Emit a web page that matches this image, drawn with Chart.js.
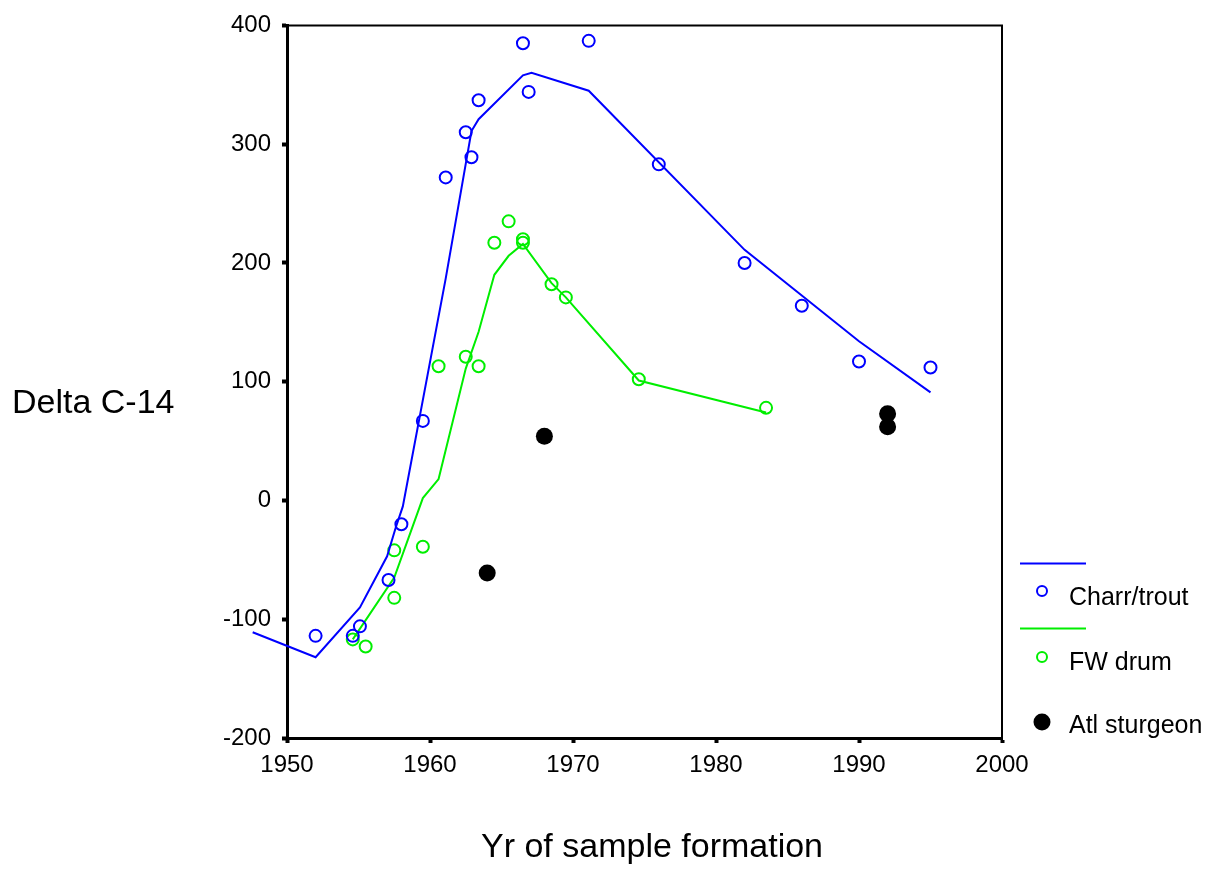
<!DOCTYPE html>
<html>
<head>
<meta charset="utf-8">
<script src="https://cdn.jsdelivr.net/npm/chart.js@4"></script>
<style>
  body { margin: 0; background: #fff; }
  #wrap { width: 1212px; height: 869px; }
</style>
</head>
<body>
<div id="wrap"><canvas id="myChart" width="1212" height="869"></canvas></div>
<script>
// values
const charrYear = [1952.0, 1954.6, 1955.1, 1957.1, 1958.0, 1959.5, 1961.1, 1962.5, 1962.9, 1963.4, 1966.5, 1966.9, 1971.1, 1976.0, 1982.0, 1986.0, 1990.0, 1995.0];
const charrDelta = [-114, -114, -106, -67, -20, 67, 272, 310, 289, 337, 385, 344, 387, 283, 200, 164, 117, 112];
const charrFitYear = [1947.6, 1952.0, 1955.1, 1957.0, 1957.6, 1958.1, 1961.1, 1962.9, 1963.4, 1966.5, 1967.1, 1971.1, 1982.0, 1990.0, 1995.0];
const charrFit = [-111, -132, -90, -47, -23, -5, 187, 311, 321, 358, 360, 345, 211, 134, 91];

const drumYear = [1954.6, 1955.5, 1957.5, 1957.5, 1959.5, 1960.6, 1962.5, 1963.4, 1964.5, 1965.5, 1966.5, 1966.5, 1968.5, 1969.5, 1974.6, 1983.5];
const drumDelta = [-117, -123, -42, -82, -39, 113, 121, 113, 217, 235, 220, 217, 182, 171, 102, 78];
const drumFitYear = [1954.6, 1957.5, 1959.5, 1960.6, 1962.5, 1963.4, 1964.5, 1965.5, 1966.5, 1968.5, 1969.5, 1974.6, 1983.5];
const drumFit = [-117, -65, 2, 18, 111, 142, 190, 206, 216, 183, 171, 101, 74];

const sturgeonYear = [1964.0, 1968.0, 1992.0, 1992.0];
const sturgeonDelta = [-61, 54, 73, 62];

const seriesNames = ["Charr/trout", "FW drum", "Atl sturgeon"];
const xTicks = [1950, 1960, 1970, 1980, 1990, 2000];
const yTicks = [-200, -100, 0, 100, 200, 300, 400];

const BLUE = "#0000ff";
const GREEN = "#00ee00";
const FONT = "'Liberation Sans', Arial, sans-serif";

function pts(xs, ys) {
  var out = [];
  for (var i = 0; i < xs.length; i++) out.push({ x: xs[i], y: ys[i] });
  return out;
}

// titles, frame and legend
const extras = {
  id: "extras",
  afterDraw(chart) {
    const ctx = chart.ctx;
    const a = chart.chartArea;
    ctx.save();
    // top + right frame
    ctx.strokeStyle = "#000";
    ctx.lineWidth = 2;
    ctx.beginPath();
    ctx.moveTo(a.left, a.top);
    ctx.lineTo(a.right, a.top);
    ctx.lineTo(a.right, a.bottom);
    ctx.stroke();

    ctx.fillStyle = "#000";
    ctx.textBaseline = "alphabetic";
    ctx.font = "34px " + FONT;
    ctx.textAlign = "left";
    ctx.fillText("Delta C-14", 12, 413);
    ctx.textAlign = "center";
    ctx.fillText("Yr of sample formation", 652, 857);

    // legend
    ctx.lineWidth = 2;
    ctx.strokeStyle = BLUE;
    ctx.beginPath(); ctx.moveTo(1020, 563.5); ctx.lineTo(1086, 563.5); ctx.stroke();
    ctx.beginPath(); ctx.arc(1042, 591, 5, 0, Math.PI * 2); ctx.stroke();
    ctx.strokeStyle = GREEN;
    ctx.beginPath(); ctx.moveTo(1020, 628.5); ctx.lineTo(1086, 628.5); ctx.stroke();
    ctx.beginPath(); ctx.arc(1042, 657, 5, 0, Math.PI * 2); ctx.stroke();
    ctx.fillStyle = "#000";
    ctx.beginPath(); ctx.arc(1042, 722, 8.5, 0, Math.PI * 2); ctx.fill();

    ctx.font = "25px " + FONT;
    ctx.textAlign = "left";
    ctx.fillText(seriesNames[0], 1069, 605);
    ctx.fillText(seriesNames[1], 1069, 670);
    ctx.fillText(seriesNames[2], 1069, 733);
    ctx.restore();
  }
};

new Chart("myChart", {
  type: "scatter",
  data: {
    datasets: [
      {
        label: seriesNames[0] + " fit",
        data: pts(charrFitYear, charrFit),
        showLine: true,
        borderColor: BLUE,
        borderWidth: 2,
        pointRadius: 0,
        clip: false
      },
      {
        label: seriesNames[0],
        data: pts(charrYear, charrDelta),
        pointRadius: 6,
        borderColor: BLUE,
        backgroundColor: "rgba(0,0,0,0)",
        borderWidth: 2
      },
      {
        label: seriesNames[1] + " fit",
        data: pts(drumFitYear, drumFit),
        showLine: true,
        borderColor: GREEN,
        borderWidth: 2,
        pointRadius: 0
      },
      {
        label: seriesNames[1],
        data: pts(drumYear, drumDelta),
        pointRadius: 6,
        borderColor: GREEN,
        backgroundColor: "rgba(0,0,0,0)",
        borderWidth: 2
      },
      {
        label: seriesNames[2],
        data: pts(sturgeonYear, sturgeonDelta),
        pointRadius: 8.5,
        borderColor: "#000",
        backgroundColor: "#000",
        borderWidth: 0
      }
    ]
  },
  options: {
    responsive: false,
    animation: false,
    events: [],
    layout: { padding: { left: 0, top: 24, right: 210, bottom: 0 } },
    plugins: {
      legend: { display: false },
      tooltip: { enabled: false }
    },
    scales: {
      x: {
        type: "linear",
        min: xTicks[0],
        max: xTicks[xTicks.length - 1],
        afterBuildTicks: function (s) { s.ticks = xTicks.map(v => ({ value: v })); },
        afterFit: function (s) { s.height = 131; },
        grid: { drawOnChartArea: false, drawTicks: true, tickLength: 5, tickWidth: 4, tickColor: "#000" },
        border: { display: true, color: "#000", width: 3 },
        ticks: { color: "#000", padding: 8, font: { family: FONT, size: 24 }, callback: v => String(v) }
      },
      y: {
        type: "linear",
        min: yTicks[0],
        max: yTicks[yTicks.length - 1],
        afterBuildTicks: function (s) { s.ticks = yTicks.map(v => ({ value: v })); },
        afterFit: function (s) { s.width = 287; },
        grid: { drawOnChartArea: false, drawTicks: true, tickLength: 5, tickWidth: 4, tickColor: "#000" },
        border: { display: true, color: "#000", width: 3 },
        ticks: { color: "#000", padding: 11, font: { family: FONT, size: 24 }, callback: v => String(v) }
      }
    }
  },
  plugins: [extras]
});
</script>
</body>
</html>
